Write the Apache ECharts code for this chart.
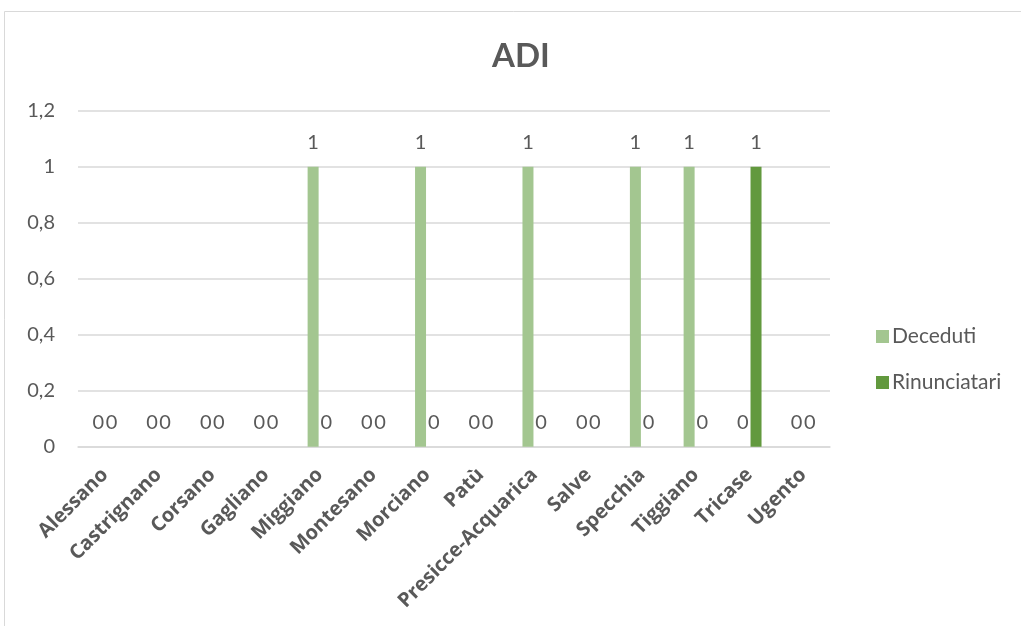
<!DOCTYPE html>
<html>
<head>
<meta charset="utf-8">
<script src="https://cdn.jsdelivr.net/npm/echarts@6/dist/echarts.min.js"></script>
<style>
  html, body { margin: 0; padding: 0; background: #ffffff; }
  #chart { width: 1021px; height: 626px; }
</style>
</head>
<body>
<div id="chart"></div>
<script>
// Comuni dell'ambito
const categories = ['Alessano', 'Castrignano', 'Corsano', 'Gagliano', 'Miggiano', 'Montesano',
  'Morciano', 'Patù', 'Presicce-Acquarica', 'Salve', 'Specchia', 'Tiggiano', 'Tricase', 'Ugento'];
const deceduti =     [0, 0, 0, 0, 1, 0, 1, 0, 1, 0, 1, 1, 0, 0];
const rinunciatari = [0, 0, 0, 0, 0, 0, 0, 0, 0, 0, 0, 0, 1, 0];
const yTicks = [0, 0.2, 0.4, 0.6, 0.8, 1, 1.2];

const textColor = '#595959';
const gridColor = '#d9d9d9';
const baseFont = 'Lato, "Liberation Sans", sans-serif';

const chart = echarts.init(document.getElementById('chart'));

const valueLabel = {
  show: true,
  position: 'top',
  distance: 14,
  color: textColor,
  fontSize: 20,
  fontFamily: baseFont
};

chart.setOption({
  animation: false,
  backgroundColor: '#ffffff',
  graphic: [{
    type: 'rect',
    shape: { x: 4.5, y: 11.5, width: 1100, height: 700 },
    style: { fill: 'none', stroke: gridColor, lineWidth: 1 },
    silent: true
  }],
  title: {
    text: 'ADI',
    left: 516,
    top: 35,
    textAlign: 'center',
    textStyle: { color: textColor, fontSize: 33, fontWeight: 'bold', fontFamily: baseFont }
  },
  legend: {
    orient: 'vertical',
    left: 871,
    top: 321,
    itemWidth: 13,
    itemHeight: 13,
    itemGap: 25,
    icon: 'rect',
    textStyle: { color: textColor, fontSize: 21, fontFamily: baseFont, padding: [0, 0, 0, -2] },
    data: ['Deceduti', 'Rinunciatari']
  },
  grid: { left: 78, right: 191, top: 110.7, bottom: 179.3, containLabel: false },
  xAxis: {
    type: 'category',
    data: categories,
    axisLine: { show: true, lineStyle: { color: gridColor, width: 1.5 } },
    axisTick: { show: false },
    axisLabel: {
      interval: 0,
      rotate: 45,
      margin: 25,
      color: textColor,
      fontSize: 20,
      fontWeight: 'bold',
      fontFamily: '"Open Sans", sans-serif'
    }
  },
  yAxis: {
    type: 'value',
    min: yTicks[0],
    max: yTicks[yTicks.length - 1],
    interval: 0.2,
    axisLine: { show: false },
    axisTick: { show: false },
    splitLine: { lineStyle: { color: gridColor, width: 1.5 } },
    axisLabel: {
      margin: 23,
      color: textColor,
      fontSize: 20,
      fontFamily: baseFont,
      formatter: v => String(Math.round(v * 10) / 10).replace('.', ',')
    }
  },
  series: [
    {
      name: 'Deceduti',
      type: 'bar',
      data: deceduti,
      barWidth: 11,
      barGap: '20%',
      itemStyle: { color: '#a3c690' },
      label: valueLabel
    },
    {
      name: 'Rinunciatari',
      type: 'bar',
      data: rinunciatari,
      barWidth: 11,
      itemStyle: { color: '#62993e' },
      label: valueLabel
    }
  ]
});
</script>
</body>
</html>
